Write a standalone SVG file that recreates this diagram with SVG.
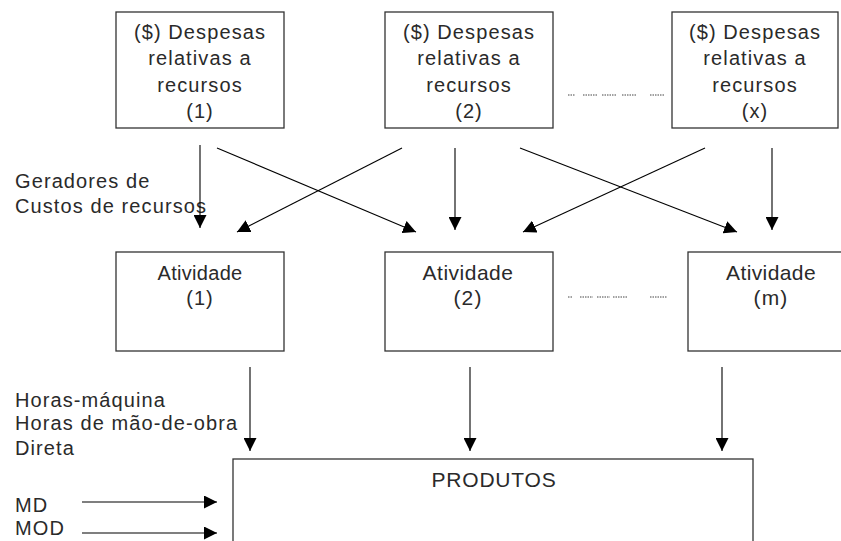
<svg xmlns="http://www.w3.org/2000/svg" width="841" height="541" viewBox="0 0 841 541">
<defs>
<marker id="ah" markerUnits="userSpaceOnUse" markerWidth="13" markerHeight="13" refX="13" refY="6.5" orient="auto">
<path d="M0,0 L13,6.5 L0,13 z" fill="#000"/>
</marker>
</defs>
<style>
.box{fill:#fff;stroke:#333;stroke-width:1.3}
.t{font-family:"Liberation Sans",Arial,sans-serif;font-size:20px;letter-spacing:1.1px;fill:#2a2a2a}
.c{text-anchor:middle}
.a{stroke:#000;stroke-width:1.1;fill:none;marker-end:url(#ah)}
.d{stroke:#444;stroke-width:1;stroke-dasharray:1.5,1;fill:none}
</style>
<rect width="841" height="541" fill="#fff"/>

<g id="rec1">
<rect class="box" x="116" y="12" width="168" height="116"/>
<text class="t c" x="200" y="39">($) Despesas</text>
<text class="t c" x="200" y="65">relativas a</text>
<text class="t c" x="200" y="92">recursos</text>
<text class="t c" x="200" y="118">(1)</text>
</g>
<g id="rec2">
<rect class="box" x="385" y="12" width="168" height="116"/>
<text class="t c" x="469" y="39">($) Despesas</text>
<text class="t c" x="469" y="65">relativas a</text>
<text class="t c" x="469" y="92">recursos</text>
<text class="t c" x="469" y="118">(2)</text>
</g>
<g id="recx">
<rect class="box" x="672" y="12" width="166" height="116"/>
<text class="t c" x="755" y="39">($) Despesas</text>
<text class="t c" x="755" y="65">relativas a</text>
<text class="t c" x="755" y="92">recursos</text>
<text class="t c" x="755" y="118">(x)</text>
</g>
<g id="dots1">
<path class="d" d="M568,95 H575 M583,95 H598 M602,95 H617 M622,95 H637 M650,95 H665"/>
</g>

<g id="label-geradores">
<text class="t" x="15" y="188">Geradores de</text>
<text class="t" x="15" y="213">Custos de recursos</text>
</g>

<g id="act1">
<rect class="box" x="116" y="252" width="168" height="99"/>
<text class="t c" x="200" y="280" style="letter-spacing:0.3px">Atividade</text>
<text class="t c" x="200" y="305">(1)</text>
</g>
<g id="act2">
<rect class="box" x="385" y="252" width="168" height="99"/>
<text class="t c" x="468" y="280" style="font-size:21px;letter-spacing:0.5px">Atividade</text>
<text class="t c" x="468" y="305" style="font-size:21px">(2)</text>
</g>
<g id="actm">
<rect class="box" x="688" y="252" width="160" height="99"/>
<text class="t c" x="771" y="280" style="font-size:21px;letter-spacing:0.4px">Atividade</text>
<text class="t c" x="771" y="305" style="font-size:21px">(m)</text>
</g>
<g id="dots2">
<path class="d" d="M568,297 H572 M580,297 H593 M597,297 H610 M613,297 H627 M650,297 H667"/>
</g>

<g id="label-horas">
<text class="t" x="15" y="407">Horas-máquina</text>
<text class="t" x="15" y="430">Horas de mão-de-obra</text>
<text class="t" x="15" y="455">Direta</text>
</g>

<g id="produtos">
<rect class="box" x="233" y="459" width="520" height="100"/>
<text class="t c" x="494" y="487" style="font-size:21px;letter-spacing:0.8px">PRODUTOS</text>
</g>

<g id="label-md">
<text class="t" x="15" y="512">MD</text>
<text class="t" x="15" y="535">MOD</text>
</g>

<g id="connectors">
<line class="a" x1="200" y1="145" x2="200" y2="228"/>
<line class="a" x1="217" y1="148" x2="416" y2="232"/>
<line class="a" x1="402" y1="148" x2="237" y2="232"/>
<line class="a" x1="455" y1="148" x2="455" y2="230"/>
<line class="a" x1="520" y1="148" x2="737" y2="232"/>
<line class="a" x1="705" y1="148" x2="523" y2="232"/>
<line class="a" x1="772" y1="148" x2="772" y2="230"/>
<line class="a" x1="250" y1="367" x2="250" y2="451"/>
<line class="a" x1="470" y1="367" x2="470" y2="451"/>
<line class="a" x1="722" y1="367" x2="722" y2="451"/>
<line class="a" x1="82" y1="502" x2="217" y2="502"/>
<line class="a" x1="82" y1="533" x2="217" y2="533"/>
</g>
</svg>
